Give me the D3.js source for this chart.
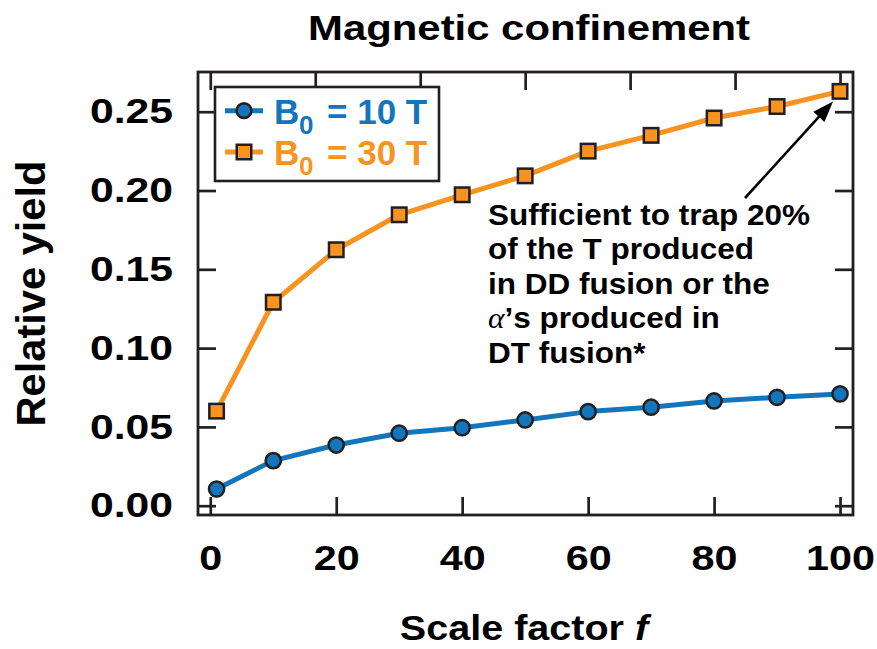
<!DOCTYPE html>
<html>
<head>
<meta charset="utf-8">
<script src="https://cdn.jsdelivr.net/npm/d3@7"></script>
<style>
  html, body { margin: 0; padding: 0; background: #ffffff; }
  svg { display: block; font-family: "Liberation Sans", Arial, Helvetica, sans-serif; font-weight: bold; }
</style>
</head>
<body>
<svg id="chart" width="877" height="649"></svg>
<script>
// Scale factor f for each simulated case
const scaleFactors = [1, 10, 20, 30, 40, 50, 60, 70, 80, 90, 100];
// Relative yield for B0 = 10 T
const yield10T = [0.0106, 0.0286, 0.0385, 0.0460, 0.0495, 0.0544, 0.0597, 0.0625, 0.0665, 0.0688, 0.0709];
// Relative yield for B0 = 30 T
const yield30T = [0.0600, 0.1291, 0.1624, 0.1846, 0.1973, 0.2093, 0.2250, 0.2350, 0.2460, 0.2533, 0.2629];

const seriesLabels = ["10 T", "30 T"];
const xTickValues = [0, 20, 40, 60, 80, 100];
const topTickValues = [0, 100 / 6, 200 / 6, 50, 400 / 6, 500 / 6, 100];
const yTickValues = [0, 0.05, 0.10, 0.15, 0.20, 0.25];
const annotationLines = [
  "Sufficient to trap 20%",
  "of the T produced",
  "in DD fusion or the",
  "\u03B1\u2019s produced in",
  "DT fusion*"
];

const BLUE = "#1376bd";
const ORANGE = "#f7931e";
const INK = "#231f20";

const frame = { left: 198, right: 853, top: 72, bottom: 515 };

const svg = d3.select("#chart");

const x = d3.scaleLinear().domain([-1.95, 102.06]).range([frame.left, frame.right]);
const y = d3.scaleLinear().domain([-0.0059, 0.2752]).range([frame.bottom, frame.top]);

function styleTicks(g) {
  g.select(".domain").remove();
  g.selectAll(".tick line").attr("stroke", INK).attr("stroke-width", 2.7);
}

// Bottom axis with labels
const gBottom = svg.append("g")
  .attr("transform", `translate(0,${frame.bottom})`)
  .call(d3.axisBottom(x).tickValues(xTickValues).tickSizeInner(-18).tickSizeOuter(0)
    .tickPadding(30).tickFormat(d3.format("d")));
styleTicks(gBottom);
gBottom.selectAll(".tick text")
  .attr("fill", "#000").attr("font-size", 35).attr("font-family", null)
  .attr("transform", "scale(1.18,1)");

// Left axis with labels
const gLeft = svg.append("g")
  .attr("transform", `translate(${frame.left},0)`)
  .call(d3.axisLeft(y).tickValues(yTickValues).tickSizeInner(-18).tickSizeOuter(0)
    .tickPadding(25).tickFormat(d3.format(".2f")));
styleTicks(gLeft);
gLeft.selectAll(".tick text")
  .attr("fill", "#000").attr("font-size", 35).attr("font-family", null)
  .attr("x", 0)
  .attr("transform", "translate(-25,0) scale(1.22,1)");

// Mirrored ticks on the right and top edges
const gRight = svg.append("g")
  .attr("transform", `translate(${frame.right},0)`)
  .call(d3.axisRight(y).tickValues(yTickValues).tickSizeInner(-18).tickSizeOuter(0).tickFormat(""));
styleTicks(gRight);

const gTop = svg.append("g")
  .attr("transform", `translate(0,${frame.top})`)
  .call(d3.axisTop(x).tickValues(topTickValues).tickSizeInner(-18).tickSizeOuter(0).tickFormat(""));
styleTicks(gTop);

// Plot frame
svg.append("rect")
  .attr("x", frame.left).attr("y", frame.top)
  .attr("width", frame.right - frame.left).attr("height", frame.bottom - frame.top)
  .attr("fill", "none").attr("stroke", INK).attr("stroke-width", 2.8);

const series = [
  { label: seriesLabels[0], color: BLUE, shape: "circle", values: yield10T },
  { label: seriesLabels[1], color: ORANGE, shape: "square", values: yield30T }
];

const line = d3.line().x(d => x(d.f)).y(d => y(d.v));

series.forEach(s => {
  const pts = scaleFactors.map((f, i) => ({ f, v: s.values[i] }));
  svg.append("path")
    .datum(pts)
    .attr("d", line)
    .attr("fill", "none")
    .attr("stroke", s.color)
    .attr("stroke-width", 5)
    .attr("stroke-linejoin", "round");
  s.pts = pts;
});

const SQ = 14.5;
series.forEach(s => {
  const g = svg.append("g");
  if (s.shape === "circle") {
    g.selectAll("circle").data(s.pts).join("circle")
      .attr("cx", d => x(d.f)).attr("cy", d => y(d.v)).attr("r", 7.6)
      .attr("fill", s.color).attr("stroke", INK).attr("stroke-width", 2.5);
  } else {
    g.selectAll("rect").data(s.pts).join("rect")
      .attr("x", d => x(d.f) - SQ / 2).attr("y", d => y(d.v) - SQ / 2)
      .attr("width", SQ).attr("height", SQ)
      .attr("fill", s.color).attr("stroke", INK).attr("stroke-width", 2.5);
  }
});

// Legend
const legend = svg.append("g");
legend.append("rect")
  .attr("x", 215).attr("y", 87).attr("width", 224).attr("height", 94)
  .attr("fill", "#fff").attr("stroke", INK).attr("stroke-width", 2.6);

const legendRows = [110.7, 152];
series.forEach((s, i) => {
  const cy = legendRows[i];
  legend.append("line")
    .attr("x1", 225).attr("x2", 263).attr("y1", cy).attr("y2", cy)
    .attr("stroke", s.color).attr("stroke-width", 5);
  if (s.shape === "circle") {
    legend.append("circle").attr("cx", 244).attr("cy", cy).attr("r", 7.4)
      .attr("fill", s.color).attr("stroke", INK).attr("stroke-width", 2.5);
  } else {
    legend.append("rect").attr("x", 244 - SQ / 2).attr("y", cy - SQ / 2)
      .attr("width", SQ).attr("height", SQ)
      .attr("fill", s.color).attr("stroke", INK).attr("stroke-width", 2.5);
  }
  const t = legend.append("text")
    .attr("x", 274).attr("y", cy + 12.8)
    .attr("font-size", 35).attr("fill", s.color);
  t.append("tspan").text("B");
  t.append("tspan").attr("x", 299).attr("dy", 10).attr("font-size", 26).text("0");
  t.append("tspan").attr("x", 327).attr("dy", -10).text("= " + s.label);
});

// Title
svg.append("text")
  .attr("transform", "translate(529,40) scale(1.196,1)")
  .attr("text-anchor", "middle").attr("font-size", 35).attr("fill", "#000")
  .text("Magnetic confinement");

// Axis titles
const xTitle = svg.append("text")
  .attr("transform", "translate(524,640) scale(1.13,1)")
  .attr("text-anchor", "middle").attr("font-size", 35).attr("fill", "#000");
xTitle.append("tspan").text("Scale factor ");
xTitle.append("tspan").attr("font-style", "italic").text("f");

svg.append("text")
  .attr("transform", "translate(45,293.5) rotate(-90) scale(1.04,1)")
  .attr("text-anchor", "middle").attr("font-size", 40).attr("fill", "#000")
  .text("Relative yield");

// Annotation text
const note = svg.append("g");
annotationLines.forEach((txt, i) => {
  const t = note.append("text")
    .attr("transform", `translate(488,${225 + i * 34.4}) scale(1.05,1)`)
    .attr("font-size", 30).attr("fill", "#000");
  if (txt.startsWith("\u03B1")) {
    t.append("tspan").attr("font-style", "italic").attr("font-weight", "normal")
      .attr("font-family", "'Liberation Serif', serif").text("\u03B1");
    t.append("tspan").text(txt.slice(1));
  } else {
    t.text(txt);
  }
});

// Arrow pointing at the last B0 = 30 T point
const last = series[1].pts[series[1].pts.length - 1];
const tip = [x(last.f) - 7, y(last.v) + 10];
const start = [745, 198];
const dx = tip[0] - start[0], dy = tip[1] - start[1];
const len = Math.hypot(dx, dy);
const ux = dx / len, uy = dy / len;
const headLen = 21, headHalf = 7.5;
const base = [tip[0] - ux * headLen, tip[1] - uy * headLen];
svg.append("line")
  .attr("x1", start[0]).attr("y1", start[1])
  .attr("x2", base[0] + ux * 2).attr("y2", base[1] + uy * 2)
  .attr("stroke", "#000").attr("stroke-width", 2.6);
svg.append("path")
  .attr("d", `M${tip[0]},${tip[1]} L${base[0] - uy * headHalf},${base[1] + ux * headHalf} L${base[0] + uy * headHalf},${base[1] - ux * headHalf} Z`)
  .attr("fill", "#000");
</script>
</body>
</html>
